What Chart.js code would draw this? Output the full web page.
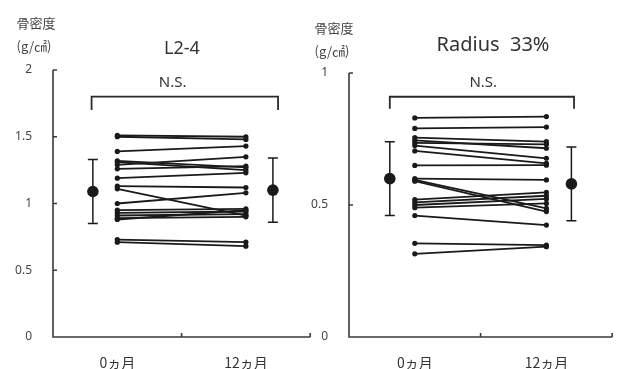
<!DOCTYPE html>
<html><head><meta charset="utf-8">
<script src="https://cdn.jsdelivr.net/npm/chart.js@4/dist/chart.umd.min.js"></script>
<style>
html,body{margin:0;padding:0;background:#fff;}
#wrap{position:relative;width:618px;height:369px;overflow:hidden;background:#fff;font-family:"Noto Sans","Noto Sans CJK JP",sans-serif;}
.t{position:absolute;transform:translate(-50%,-50%);white-space:pre;color:#333;line-height:1;}
.u{position:absolute;transform:translate(-50%,-50%);white-space:pre;color:#444;line-height:1;font-family:"Noto Sans CJK JP",sans-serif;font-size:13px;}
canvas{position:absolute;left:0;top:0;}
</style></head><body>
<div id="wrap">
  <div style="position:absolute;left:0;top:0;width:316px;height:369px"><canvas id="c1" width="316" height="369"></canvas></div>
  <div style="position:absolute;left:290px;top:0;width:328px;height:369px"><canvas id="c2" width="328" height="369"></canvas></div>
  <div class="t" style="left:182px;top:47px;font-size:18px">L2-4</div>
  <div class="t" style="left:493px;top:44px;font-size:20px">Radius  33%</div>
  <div class="u" style="left:36px;top:22px">骨密度</div>
  <div class="u" style="left:34px;top:45px">(g/㎠)</div>
  <div class="u" style="left:334px;top:27px">骨密度</div>
  <div class="u" style="left:332px;top:50px">(g/㎠)</div>
</div>
<script>
// ---- data ----
const categories = ['0ヵ月', '12ヵ月'];
const yTicksL24 = [0, 0.5, 1, 1.5, 2];
const yTicksRadius = [0, 0.5, 1];

const l24Month0  = [1.51, 1.50, 1.39, 1.32, 1.31, 1.29, 1.26, 1.19, 1.13, 1.11, 1.00, 0.95, 0.93, 0.91, 0.89, 0.88, 0.73, 0.71];
const l24Month12 = [1.50, 1.48, 1.43, 1.27, 1.25, 1.35, 1.28, 1.23, 1.12, 0.91, 1.08, 0.96, 0.94, 0.92, 0.90, 0.95, 0.71, 0.68];
const l24Mean = [1.09, 1.10];
const l24Sd   = [0.24, 0.24];

const radMonth0  = [0.83, 0.79, 0.755, 0.745, 0.735, 0.725, 0.705, 0.65, 0.60, 0.595, 0.59, 0.52, 0.51, 0.50, 0.49, 0.46, 0.355, 0.315];
const radMonth12 = [0.835, 0.795, 0.74, 0.715, 0.73, 0.677, 0.658, 0.651, 0.595, 0.487, 0.475, 0.548, 0.535, 0.523, 0.506, 0.424, 0.348, 0.342];
const radMean = [0.60, 0.58];
const radSd   = [0.14, 0.14];

const sigLabel = 'N.S.';

// ---- drawing helpers ----
const INK = '#1a1a1a';
const overlayPlugin = {
  id: 'overlay',
  beforeDatasetsDraw(chart) {
    const o = chart.options.plugins.overlay;
    const ctx = chart.ctx, xs = chart.scales.x, ys = chart.scales.y;
    ctx.save();
    // axes
    ctx.strokeStyle = '#3a3a3a';
    ctx.lineWidth = 1.6;
    const x0 = xs.getPixelForValue(0), x2 = xs.getPixelForValue(2);
    const y0 = ys.getPixelForValue(0), yTop = ys.getPixelForValue(ys.max);
    ctx.beginPath();
    ctx.moveTo(x0, yTop); ctx.lineTo(x0, y0); ctx.lineTo(x2, y0);
    o.yTicks.forEach(v => { const p = ys.getPixelForValue(v); ctx.moveTo(x0, p); ctx.lineTo(x0 + 4, p); });
    [1, 2].forEach(v => { const p = xs.getPixelForValue(v); ctx.moveTo(p, y0); ctx.lineTo(p, y0 - 4); });
    ctx.stroke();
    // error bars
    ctx.strokeStyle = INK;
    ctx.lineWidth = 1.5;
    o.mean.forEach((m, i) => {
      const px = xs.getPixelForValue(o.meanX[i]);
      const hi = ys.getPixelForValue(m + o.sd[i]), lo = ys.getPixelForValue(m - o.sd[i]);
      ctx.beginPath();
      ctx.moveTo(px, hi); ctx.lineTo(px, lo);
      ctx.moveTo(px - 5, hi); ctx.lineTo(px + 5, hi);
      ctx.moveTo(px - 5, lo); ctx.lineTo(px + 5, lo);
      ctx.stroke();
    });
    // significance bracket
    const bx1 = xs.getPixelForValue(o.bracketX[0]), bx2 = xs.getPixelForValue(o.bracketX[1]);
    const by = ys.getPixelForValue(o.bracketY), byl = ys.getPixelForValue(o.bracketLegY);
    ctx.strokeStyle = '#2a2a2a';
    ctx.lineWidth = 1.8;
    ctx.beginPath();
    ctx.moveTo(bx1, byl); ctx.lineTo(bx1, by); ctx.lineTo(bx2, by); ctx.lineTo(bx2, byl);
    ctx.stroke();
    ctx.fillStyle = '#333';
    ctx.font = '15px "Noto Sans", sans-serif';
    ctx.textAlign = 'center';
    ctx.textBaseline = 'middle';
    ctx.fillText(sigLabel, xs.getPixelForValue(o.textX), by - 14);
    ctx.restore();
  }
};

function makeChart(id, month0, month12, mean, sd, yMax, yTicks, cfg) {
  const datasets = month0.map((v, i) => ({
    data: [{x: 0.5, y: v}, {x: 1.5, y: month12[i]}],
    borderColor: INK, borderWidth: 1.8,
    pointRadius: 2.6, pointBackgroundColor: INK, pointBorderWidth: 0,
    fill: false, tension: 0
  }));
  datasets.push({
    data: mean.map((m, i) => ({x: cfg.meanX[i], y: m})),
    showLine: false, pointRadius: 5.8, pointBackgroundColor: INK, pointBorderColor: INK, pointBorderWidth: 0
  });
  return new Chart(document.getElementById(id), {
    type: 'line',
    data: {datasets},
    plugins: [overlayPlugin],
    options: {
      responsive: false, animation: false, devicePixelRatio: 1,
      clip: false,
      layout: {padding: {top: cfg.padTop, right: cfg.padRight, left: 0, bottom: 0}},
      plugins: {
        legend: {display: false}, tooltip: {enabled: false},
        overlay: {yTicks, mean, sd, meanX: cfg.meanX, bracketX: cfg.bracketX, bracketY: cfg.bracketY, bracketLegY: cfg.bracketLegY, textX: cfg.textX}
      },
      scales: {
        x: {
          type: 'linear', min: 0, max: 2,
          grid: {display: false}, border: {display: false},
          afterBuildTicks: s => { s.ticks = [{value: 0.5}, {value: 1.5}]; },
          afterFit: s => { s.height = 32; },
          ticks: {
            padding: 9, color: '#333', font: {family: '"Noto Sans CJK JP", sans-serif', size: 14},
            callback: (v) => categories[Math.round(v - 0.5)]
          }
        },
        y: {
          type: 'linear', min: 0, max: yMax,
          grid: {display: false}, border: {display: false},
          afterBuildTicks: s => { s.ticks = yTicks.map(v => ({value: v})); },
          afterFit: s => { s.width = cfg.yWidth; },
          ticks: {padding: 13, color: '#444', font: {family: '"Noto Sans", sans-serif', size: 12},
            callback: v => String(v)}
        }
      }
    }
  });
}

makeChart('c1', l24Month0, l24Month12, l24Mean, l24Sd, 2, yTicksL24, {
  padTop: 70, padRight: 3, yWidth: 53,
  meanX: [0.31, 1.71], bracketX: [0.3, 1.75], bracketY: 1.8, bracketLegY: 1.7, textX: 0.93
});
makeChart('c2', radMonth0, radMonth12, radMean, radSd, 1, yTicksRadius, {
  padTop: 73, padRight: 1, yWidth: 59,
  meanX: [0.31, 1.69], bracketX: [0.31, 1.71], bracketY: 0.91, bracketLegY: 0.865, textX: 1.02
});
</script>
</body></html>
